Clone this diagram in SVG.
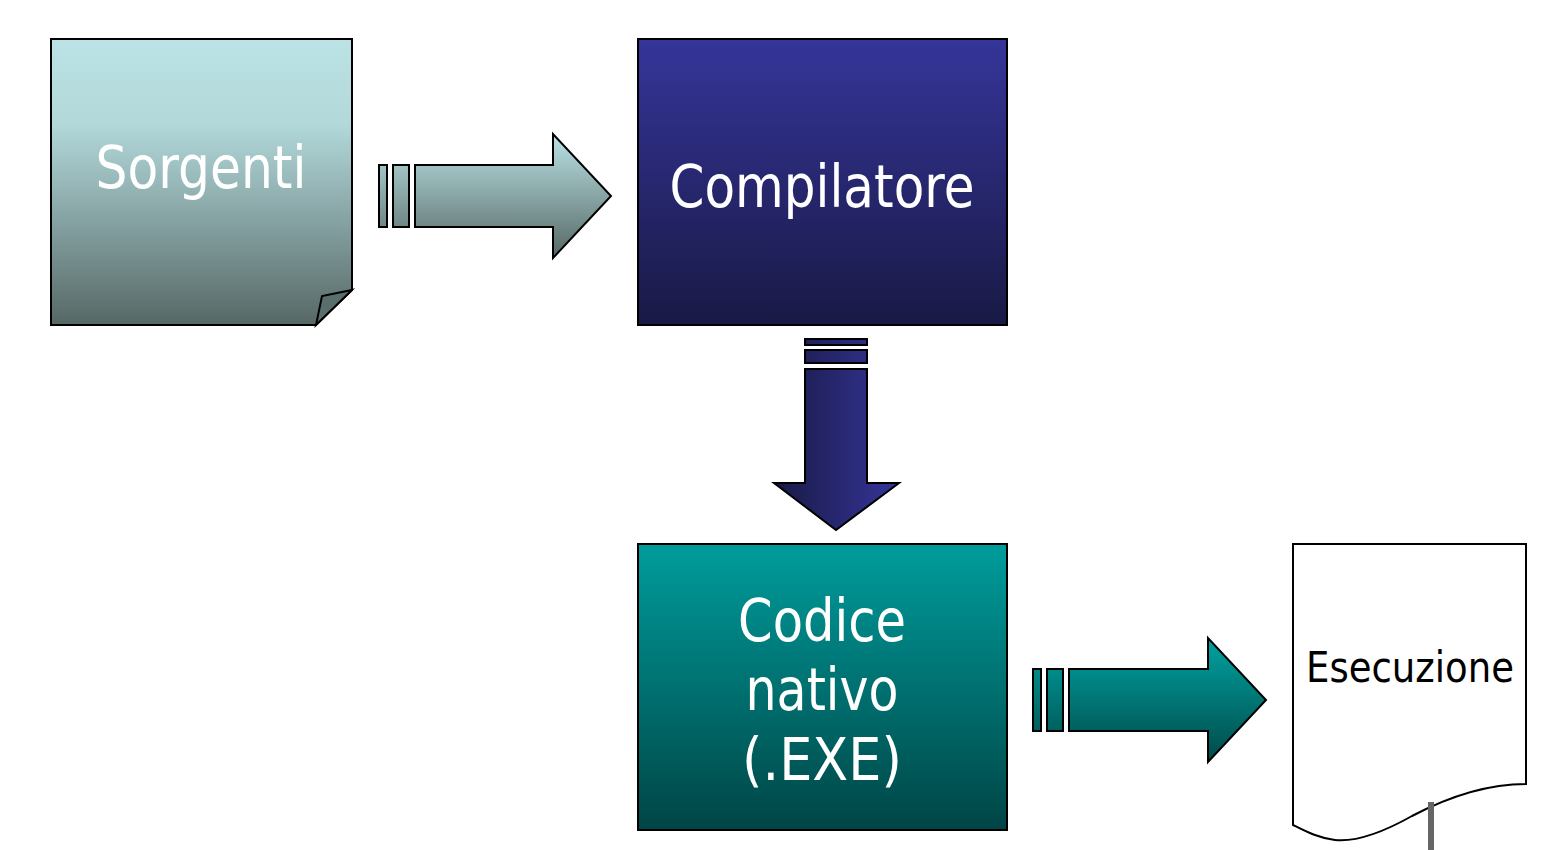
<svg xmlns="http://www.w3.org/2000/svg" width="1565" height="850" viewBox="0 0 1565 850">
<style>
.sh{stroke:#000;stroke-width:2;stroke-linejoin:miter}
.t{font-family:"DejaVu Sans",Verdana,sans-serif;text-anchor:middle}
.w{fill:#fff}
</style>
<defs>
<linearGradient id="gs" x1="0" y1="0" x2="0" y2="1"><stop offset="0" stop-color="#bbe2e4"/><stop offset="0.3" stop-color="#b2d8da"/><stop offset="1" stop-color="#566866"/></linearGradient>
<linearGradient id="gc" x1="0" y1="0" x2="0" y2="1"><stop offset="0" stop-color="#35359a"/><stop offset="1" stop-color="#191945"/></linearGradient>
<linearGradient id="gd" x1="0" y1="0" x2="1" y2="0"><stop offset="0" stop-color="#191945"/><stop offset="1" stop-color="#35359a"/></linearGradient>
<linearGradient id="gn" x1="0" y1="0" x2="0" y2="1"><stop offset="0" stop-color="#009c9c"/><stop offset="1" stop-color="#004545"/></linearGradient>
<linearGradient id="ga" x1="0" y1="0" x2="0" y2="1"><stop offset="0" stop-color="#00a2a1"/><stop offset="1" stop-color="#004a48"/></linearGradient>
<linearGradient id="gs2" gradientUnits="userSpaceOnUse" x1="0" y1="134" x2="0" y2="258"><stop offset="0" stop-color="#bbe2e4"/><stop offset="1" stop-color="#566866"/></linearGradient>
<linearGradient id="ga2" gradientUnits="userSpaceOnUse" x1="0" y1="638" x2="0" y2="762"><stop offset="0" stop-color="#00a2a1"/><stop offset="1" stop-color="#004a48"/></linearGradient>
<linearGradient id="gd2" gradientUnits="userSpaceOnUse" x1="774" y1="0" x2="899" y2="0"><stop offset="0" stop-color="#191945"/><stop offset="1" stop-color="#35359a"/></linearGradient>
</defs>

<g id="connectors">
  <g id="arrow-sorgenti-compilatore" fill="url(#gs2)" class="sh">
    <rect x="379" y="165" width="8" height="62"/>
    <rect x="393" y="165" width="16" height="62"/>
    <path d="M415,165 H553 V134 L611,196 L553,258 V227 H415 Z"/>
  </g>
  <g id="arrow-compilatore-codice" fill="url(#gd2)" class="sh">
    <rect x="805" y="339" width="62" height="6"/>
    <rect x="805" y="350" width="62" height="13"/>
    <path d="M805,369 H867 V483 H899 L836,530 L774,483 H805 Z"/>
  </g>
  <g id="arrow-codice-esecuzione" fill="url(#ga2)" class="sh">
    <rect x="1033" y="669" width="8" height="62"/>
    <rect x="1047" y="669" width="16" height="62"/>
    <path d="M1069,669 H1208 V638 L1266,700 L1208,762 V731 H1069 Z"/>
  </g>
</g>

<g id="node-sorgenti">
  <path class="sh" fill="url(#gs)" d="M51,39 H352 V290 L316,325 H51 Z"/>
  <path class="sh" fill="#5a6e6c" d="M316,325 L322,296 L352,290 Z"/>
  <text class="t w" x="201" y="188" font-size="58" textLength="211" lengthAdjust="spacingAndGlyphs">Sorgenti</text>
</g>

<g id="node-compilatore">
  <rect class="sh" fill="url(#gc)" x="638" y="39" width="369" height="286"/>
  <text class="t w" x="822" y="207" font-size="59" textLength="305" lengthAdjust="spacingAndGlyphs">Compilatore</text>
</g>

<g id="node-codice">
  <rect class="sh" fill="url(#gn)" x="638" y="544" width="369" height="286"/>
  <text class="t w" x="822" y="641" font-size="59" textLength="168" lengthAdjust="spacingAndGlyphs">Codice</text>
  <text class="t w" x="822" y="710" font-size="59" textLength="153" lengthAdjust="spacingAndGlyphs">nativo</text>
  <text class="t w" x="822" y="780" font-size="59" textLength="160" lengthAdjust="spacingAndGlyphs">(.EXE)</text>
</g>

<g id="node-esecuzione">
  <path class="sh" fill="#fff" d="M1293,544 H1526 V784 C1490,784 1450,796 1412,816 C1380,834 1355,842 1335,840 C1318,838 1305,831 1293,825 Z"/>
  <line x1="1431" y1="802" x2="1431" y2="850" stroke="#666" stroke-width="6"/>
  <text class="t" x="1410" y="682" font-size="42" fill="#000" textLength="208" lengthAdjust="spacingAndGlyphs">Esecuzione</text>
</g>
</svg>
